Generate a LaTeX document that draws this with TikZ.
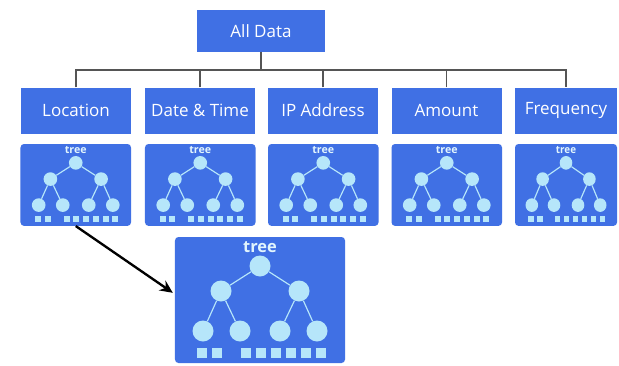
\documentclass[tikz,border=0pt]{standalone}
\usepackage{fontspec}
\setmainfont{Open Sans}
\usetikzlibrary{arrows.meta}

\definecolor{boxblue}{RGB}{64,112,228}
\definecolor{leafblue}{RGB}{182,230,250}
\definecolor{linkgray}{RGB}{85,85,85}

\tikzset{
  catbox/.style={fill=boxblue, text=white, minimum width=3.3cm, minimum height=1.38cm, inner sep=0pt, font=\fontsize{14.5}{16}\selectfont},
  treebox/.style={fill=boxblue, rounded corners=3pt, minimum width=5.1cm, minimum height=3.78cm, inner sep=0pt},
  treelabel/.style={text=leafblue!40!white, font=\fontsize{14}{16}\selectfont\bfseries, inner sep=0pt},
  leaf/.style={circle, fill=leafblue, minimum size=0.63cm, inner sep=0pt},
  cell/.style={fill=leafblue, minimum size=0.28cm, inner sep=0pt},
  branch/.style={leafblue, line width=1pt},
  link/.style={linkgray, line width=0.9pt},
  pics/treepic/.style={code={
    \node[treebox] (-box) at (85,63) {};
    \node[treelabel] (-lbl) at (85,10) {tree};
    % circles
    \node[leaf] (-r) at (85,29) {};
    \node[leaf] (-a) at (46,54) {};
    \node[leaf] (-b) at (124,54) {};
    \node[leaf] (-aa) at (28,94) {};
    \node[leaf] (-ab) at (65,94) {};
    \node[leaf] (-ba) at (105,94) {};
    \node[leaf] (-bb) at (142,94) {};
    \draw[branch] (-r) -- (-a) (-r) -- (-b);
    \draw[branch] (-a) -- (-aa) (-a) -- (-ab) (-b) -- (-ba) (-b) -- (-bb);
    % squares
    \foreach \x in {27,42,71,86,101,116,131,146}
      \node[cell] at (\x,116) {};
  }}
}

\begin{document}
\begin{tikzpicture}[x=0.03cm, y=-0.03cm]
  \useasboundingbox[fill=white] (0,0) rectangle (619,365);

  % top box
  \node[catbox, minimum width=3.84cm, minimum height=1.23cm] (all) at (261,31) {All Data};

  % categories
  \node[catbox] (loc) at (76,110.5) {Location};
  \node[catbox] (date) at (200,110.5) {Date \& Time};
  \node[catbox] (ip) at (323,110.5) {IP Address};
  \node[catbox] (amt) at (446.5,110.5) {Amount};
  \node[catbox, minimum width=3.06cm] (freq) at (566,110.5) {Frequency};

  % connectors
  \coordinate (bus) at (261,70);
  \draw[link] (all.south) -- (bus);
  \draw[link] (loc.north) -- (loc.north |- bus) -- (freq.north |- bus) -- (freq.north);
  \foreach \n in {date,ip,amt}
    \draw[link] (\n.north) -- (\n.north |- bus);

  % small trees
  \pic[scale=0.65, transform shape] (loctree) at (20.5,144) {treepic};
  \pic[scale=0.65, transform shape] (datetree) at (145,144) {treepic};
  \pic[scale=0.65, transform shape] (iptree) at (268,144) {treepic};
  \pic[scale=0.65, transform shape] (amttree) at (391.5,144) {treepic};
  \pic[xscale=0.6, yscale=0.65, transform shape] (freqtree) at (515,144) {treepic};

  % enlarged tree
  \pic (bigtree) at (175,237) {treepic};

  \draw[line width=2pt, -{Stealth[length=11pt, width=10pt]}, shorten >=2pt]
    (loctree-box.south) -- ([yshift=5pt]bigtree-box.west);
\end{tikzpicture}
\end{document}
